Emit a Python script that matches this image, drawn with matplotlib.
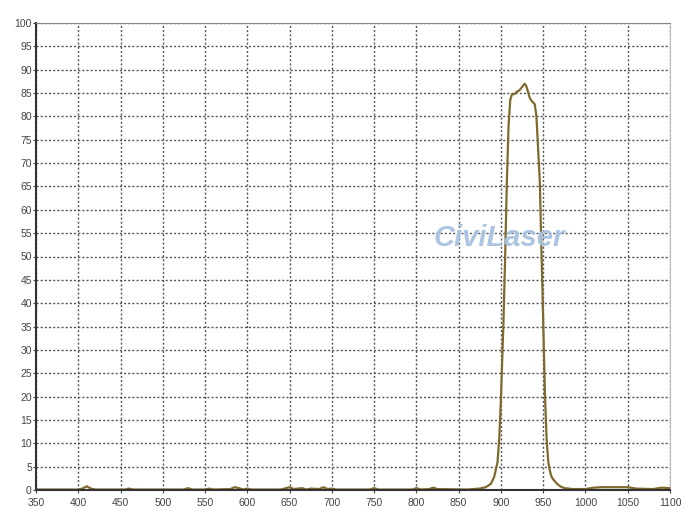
import matplotlib.pyplot as plt
import numpy as np

# transmission spectrum (wavelength nm, %T)
wavelength = [350, 380, 400, 405, 410, 415, 420, 455, 460, 465, 500, 525, 530, 535,
              550, 555, 560, 580, 585, 590, 595, 600, 605, 640, 650, 655, 665, 670,
              675, 685, 690, 695, 700, 705, 745, 750, 755, 795, 800, 805, 815, 820,
              825, 860, 875, 882, 888, 892, 896, 898, 900, 903, 905, 907, 909, 911,
              913, 916, 919, 922, 925, 928, 930, 932, 934, 936, 938, 940, 942, 944,
              946, 948, 950, 952, 954, 956, 958, 960, 963, 966, 970, 975, 985, 1000,
              1010, 1020, 1050, 1060, 1080, 1090, 1100]
transmission = [0.1, 0.1, 0.1, 0.3, 0.8, 0.3, 0.1, 0.1, 0.3, 0.1, 0.1, 0.1, 0.4, 0.1,
                0.1, 0.3, 0.1, 0.2, 0.6, 0.4, 0.1, 0.3, 0.1, 0.1, 0.6, 0.2, 0.4, 0.1,
                0.3, 0.2, 0.6, 0.2, 0.3, 0.1, 0.1, 0.4, 0.1, 0.1, 0.4, 0.1, 0.2, 0.5,
                0.2, 0.1, 0.3, 0.6, 1.3, 2.8, 6.0, 11.0, 19.5, 36.0, 50.0, 66.0, 78.0,
                83.5, 84.7, 84.8, 85.3, 85.6, 86.3, 87.0, 86.5, 85.3, 84.0, 83.4, 83.0,
                82.6, 80.0, 73.0, 66.0, 51.0, 36.0, 21.0, 11.0, 6.0, 4.0, 2.8, 2.0,
                1.4, 0.8, 0.4, 0.2, 0.2, 0.5, 0.6, 0.6, 0.3, 0.2, 0.5, 0.4]

plt.rcParams['font.family'] = ['Liberation Sans Narrow', 'Liberation Sans', 'DejaVu Sans']

fig = plt.figure(figsize=(7, 5.25), dpi=100)
ax = fig.add_axes([36 / 700, 35 / 525, 634 / 700, 467 / 525])

ax.plot(wavelength, transmission, color='#7d6a2c', linewidth=1.6)
ax.axhline(0, color='#222222', linewidth=1.2, zorder=1)

ax.set_xlim(350, 1100)
ax.set_ylim(0, 100)
ax.set_xticks(np.arange(350, 1101, 50))
ax.set_yticks(np.arange(0, 101, 5))

ax.grid(True, linestyle=(0, (1.5, 1.5)), color='#555555', linewidth=1.0)
ax.set_axisbelow(True)

ax.tick_params(length=2, width=0.8, labelsize=7.5, colors='#444444', pad=1)
ax.tick_params(axis='x', pad=4)
ax.spines['left'].set_color('#333333')
ax.spines['left'].set_linewidth(1.5)
ax.spines['bottom'].set_color('#333333')
ax.spines['bottom'].set_linewidth(1.5)
ax.spines['top'].set_color('#888888')
ax.spines['right'].set_color('#bbbbbb')

ax.text(0.73, 0.54, 'CiviLaser', transform=ax.transAxes, ha='center', va='center',
        fontsize=21, fontweight='bold', style='italic', color='#a8c2df',
        family=['Liberation Sans', 'DejaVu Sans'], alpha=0.95)

fig.savefig('out.png', dpi=100)
